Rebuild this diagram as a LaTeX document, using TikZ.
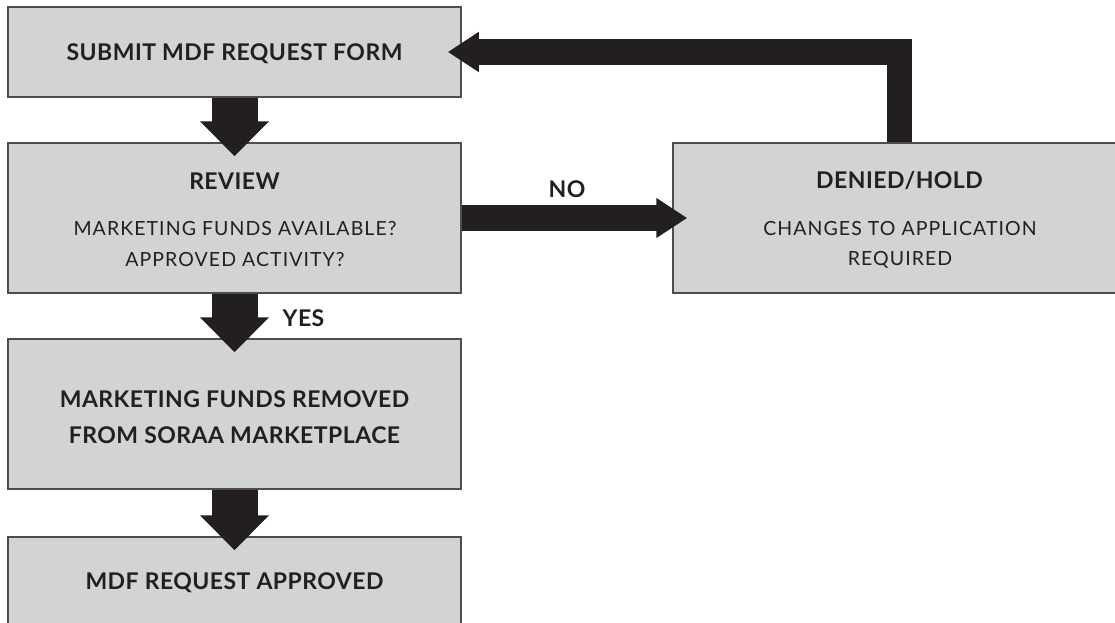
\documentclass[tikz,border=0pt]{standalone}
\usepackage{fontspec}
\setmainfont{Lato}
\usetikzlibrary{arrows.meta,calc}
\definecolor{boxgray}{HTML}{D1D3D4}
\definecolor{boxline}{HTML}{4D4D4F}
\definecolor{ink}{HTML}{231F20}
\tikzset{
  box/.style={draw=boxline, line width=1.5pt, fill=boxgray, rectangle, inner sep=0pt},
  head/.style={text=ink, font=\fontsize{23}{23}\selectfont\bfseries\addfontfeature{LetterSpace=2}, inner sep=0pt, anchor=center},
  body/.style={text=ink, font=\fontsize{19.5}{19.5}\selectfont\addfontfeature{LetterSpace=5.5}, inner sep=0pt, anchor=center},
  bigarrow/.style={draw=ink, line width=46pt, line cap=butt, -{Triangle[width=67pt,length=35pt]}},
  thinarrow/.style={draw=ink, line width=25.5pt, line cap=butt, line join=miter, -{Triangle[width=38pt,length=31pt]}}
}
\begin{document}
\begin{tikzpicture}[x=1pt,y=-1pt]
\useasboundingbox (0,0) rectangle (1115,623);
\clip (0,0) rectangle (1115,623);
% boxes
\node[box, minimum width=453pt, minimum height=90pt] (b1) at (234.5,52) {};
\node[box, minimum width=453pt, minimum height=150pt] (b2) at (234.5,218) {};
\node[box, minimum width=453pt, minimum height=150pt] (b3) at (234.5,414) {};
\node[box, minimum width=453pt, minimum height=90pt] (b4) at (234.5,582) {};
\node[box, minimum width=453pt, minimum height=150pt] (dn) at (899.5,218) {};
% texts
\node[head] (t1) at (234.5,54) {SUBMIT MDF REQUEST FORM};
\node[head] (t2) at (234.5,181) {REVIEW};
\node[body] (t2a) at (235,228.5) {MARKETING FUNDS AVAILABLE?};
\node[body] (t2b) at (235,260) {APPROVED ACTIVITY?};
\node[head] (t3a) at (234.5,399) {MARKETING FUNDS REMOVED};
\node[head] (t3b) at (234.5,435) {FROM SORAA MARKETPLACE};
\node[head] (t4) at (234.5,583) {MDF REQUEST APPROVED};
\node[head] (t5) at (899.5,181) {DENIED/HOLD};
\node[body] (t5a) at (900,228.5) {CHANGES TO APPLICATION};
\node[body] (t5b) at (900,260) {REQUIRED};
\node[head] (no) at (567,189) {NO};
\node[head] (yes) at (303.5,318.5) {YES};
% arrows
\draw[bigarrow] (b1.south) -- ($(b2.north)+(0,14)$);
\draw[bigarrow] (b2.south) -- ($(b3.north)+(0,14)$);
\draw[bigarrow] (b3.south) -- ($(b4.north)+(0,14)$);
\draw[thinarrow] (b2.east) -- ($(dn.west)+(15,0)$);
\draw[thinarrow] (dn.north) |- ($(b1.east)+(-14,0)$);
\end{tikzpicture}
\end{document}
